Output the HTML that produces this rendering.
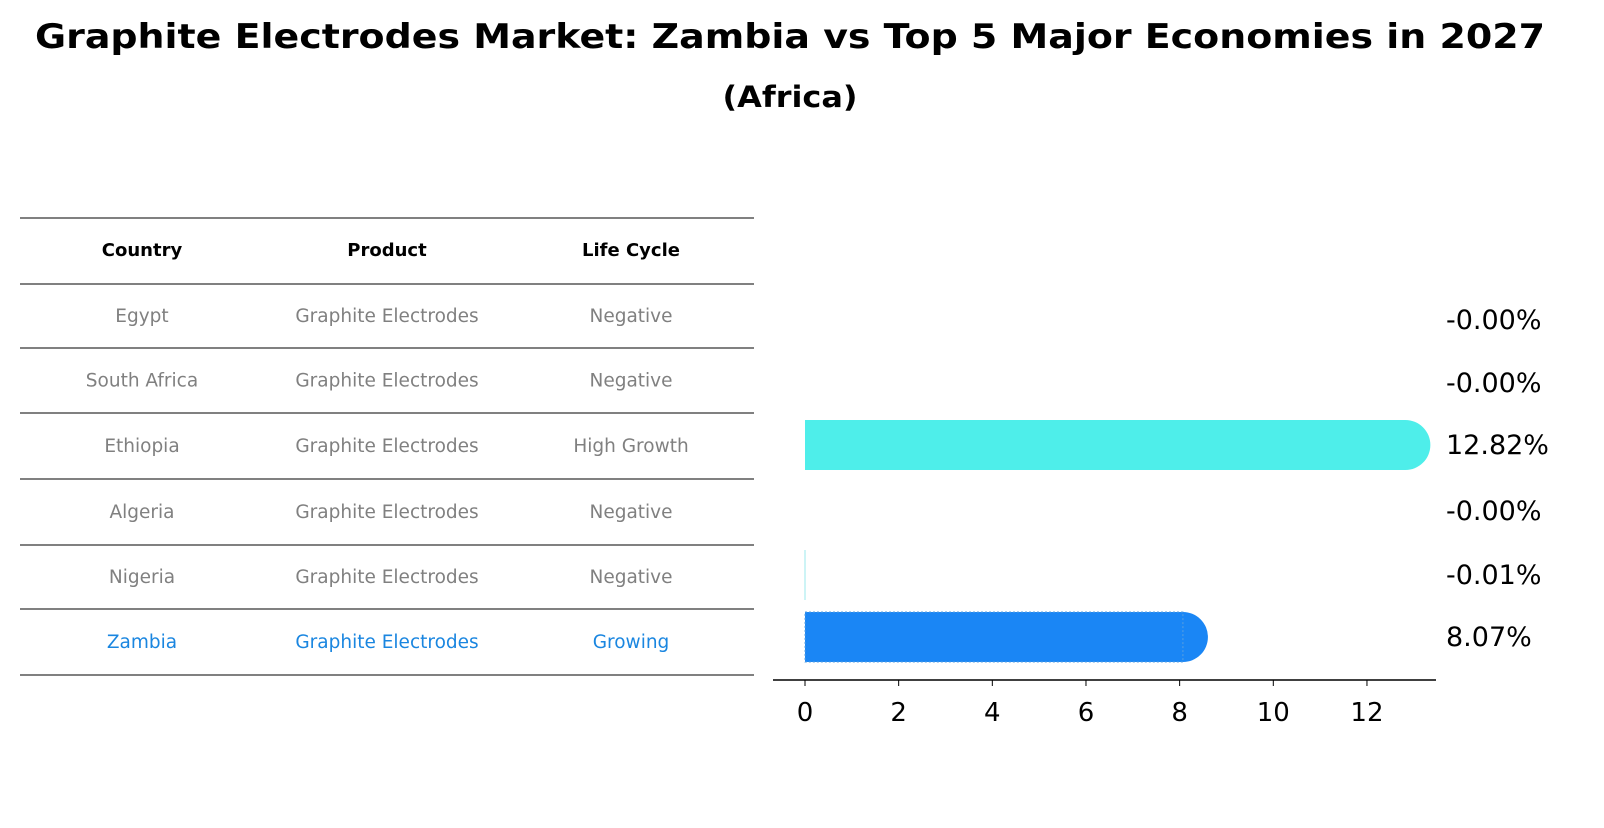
<!DOCTYPE html>
<html><head><meta charset="utf-8"><style>
body{margin:0;background:#fff;font-family:"Liberation Sans","DejaVu Sans",sans-serif}
svg text{font-family:"DejaVu Sans","Liberation Sans",sans-serif}
</style></head><body>
<svg width="1604" height="823" viewBox="0 0 1604 823">
<text x="790" y="48" text-anchor="middle" font-size="34" font-weight="bold" textLength="1510" lengthAdjust="spacingAndGlyphs">Graphite Electrodes Market: Zambia vs Top 5 Major Economies in 2027</text>
<text x="790" y="107" text-anchor="middle" font-size="29" font-weight="bold" textLength="135" lengthAdjust="spacingAndGlyphs">(Africa)</text>
<g id="table"></g>
<g id="bars"></g>
</svg>
<script>
const countries=["Egypt","South Africa","Ethiopia","Algeria","Nigeria","Zambia"];
const products=["Graphite Electrodes","Graphite Electrodes","Graphite Electrodes","Graphite Electrodes","Graphite Electrodes","Graphite Electrodes"];
const lifeCycles=["Negative","Negative","High Growth","Negative","Negative","Growing"];
const growth=[-0.001,-0.001,12.82,-0.001,-0.01,8.07];
const growthLabels=["-0.00%","-0.00%","12.82%","-0.00%","-0.01%","8.07%"];
const ticks=[0,2,4,6,8,10,12];
const NS="http://www.w3.org/2000/svg";
function mk(tag,attrs,parent,text){const e=document.createElementNS(NS,tag);for(const k in attrs)e.setAttribute(k,attrs[k]);if(text!==undefined)e.textContent=text;parent.appendChild(e);return e;}
const T=document.getElementById('table');
const lines=[218,284,348,413,479,545,609,675];
lines.forEach(y=>{const l=mk('line',{x1:20,x2:754,y1:y,y2:y,stroke:'#000','stroke-width':1},T);

});
const cx=[142,387,631];
["Country","Product","Life Cycle"].forEach((h,i)=>{const t=mk('text',{x:cx[i],y:256,'text-anchor':'middle','font-size':18,'font-weight':'bold'},T,h);

});
countries.forEach((c,r)=>{const y=(lines[r+1]+lines[r+2])/2+6;const col=r===5?'#1a86e0':'#808080';
[c,products[r],lifeCycles[r]].forEach((v,i)=>{const t=mk('text',{x:cx[i],y:y,'text-anchor':'middle','font-size':18.5,fill:col},T,v);

});});
const B=document.getElementById('bars');
const x0=805,pxu=46.83;const xs=v=>x0+v*pxu;
const rowY=[320,383,445,511,575,637];const h=50;
growth.forEach((v,i)=>{const cy=rowY[i];const col=i===5?'#1a86f5':(i===2?'#4eeeea':'#9be8ee');
if(Math.abs(v)<0.05){const l=mk('line',{x1:x0,x2:x0,y1:cy-h/2,y2:cy+h/2,stroke:i===4?'#9be8ee':'none','stroke-width':1},B);

}
else{const xe=xs(v);const p=mk('path',{d:`M${x0},${cy-h/2}H${xe}A${h/2},${h/2} 0 0 1 ${xe},${cy+h/2}H${x0}Z`,fill:col},B);


if(i===5){mk('rect',{x:x0,y:cy-h/2,width:xe-x0,height:h,fill:'none',stroke:'#5aa0e0','stroke-dasharray':'2,2','stroke-width':1},B);}}
const t=mk('text',{x:1446,y:cy+9,'font-size':27},B,growthLabels[i]);

});
const ax=mk('line',{x1:773,x2:1436,y1:680,y2:680,stroke:'#000','stroke-width':1.5},B);


ticks.forEach(v=>{mk('line',{x1:xs(v),x2:xs(v),y1:680,y2:686,stroke:'#000'},B);
const t=mk('text',{x:xs(v),y:721,'text-anchor':'middle','font-size':26},B,String(v));

});
</script>
</body></html>
